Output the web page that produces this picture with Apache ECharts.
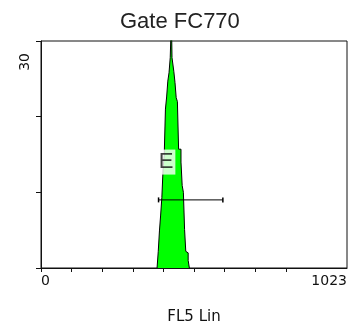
<!DOCTYPE html>
<html>
<head>
<meta charset="utf-8">
<script src="https://cdn.jsdelivr.net/npm/echarts@6/dist/echarts.min.js"></script>
<style>
  html, body { margin: 0; padding: 0; background: #fff; }
  #chart { width: 351px; height: 330px; }
</style>
</head>
<body>
<div id="chart"></div>
<script>
// FL5 histogram: left edge of each bin and its event count
const channels = [388, 392, 396, 400, 404, 408, 412, 416, 420, 424, 428, 432, 436, 438, 440,
                  444, 448, 452, 456, 460, 464, 468, 472, 476, 480, 484, 488, 492, 496];
const counts   = [0, 2.2, 4.9, 7, 9.3, 13, 15, 21, 22.6, 24.7, 25.8, 27.8, 33, 27.8, 27.8,
                  26, 24.5, 22.5, 22, 15.7, 15.7, 14, 10.9, 10, 5.1, 2.2, 2, 1, 0];

// range marker "E": channel span and the height it is drawn at
const markerNames = ['E'];
const markerRange = [393, 608];
const markerLevel = 9;
const markerLabelPos = [418, 14];

// axis scales and tick labels
const xMin = 0, xMax = 1023, xTickStep = 102.3;
const xTickValues = [0, 102.3, 204.6, 306.9, 409.2, 511.5, 613.8, 716.1, 818.4];
const xLabelValues = [0, 1023];
const yMin = 0, yMax = 30;
const yTickValues = [0, 10, 20, 30];
const yLabelValues = [30];

const titleText = 'Gate FC770';
const xName = 'FL5 Lin';

const chart = echarts.init(document.getElementById('chart'), null, { renderer: 'canvas' });

const axisFont = 'DejaVu Sans';

chart.setOption({
  animation: false,
  backgroundColor: '#ffffff',
  title: {
    text: titleText,
    left: 120,
    top: 11,
    padding: 0,
    textStyle: { fontFamily: 'Liberation Sans', fontSize: 22, fontWeight: 'normal', color: '#222' }
  },
  grid: {
    left: 41, right: 4, top: 41, bottom: 61,
    show: true, borderColor: '#111', borderWidth: 1, backgroundColor: 'transparent'
  },
  xAxis: {
    type: 'value',
    min: xMin, max: xMax, interval: xTickStep,
    name: xName,
    nameLocation: 'middle',
    nameGap: 42,
    nameTextStyle: { fontFamily: axisFont, fontSize: 15, color: '#111' },
    axisLine: { show: true, lineStyle: { color: '#111', width: 1 } },
    axisTick: { show: true, length: 4, customValues: xTickValues, lineStyle: { color: '#111' } },
    axisLabel: {
      show: true, customValues: xLabelValues, margin: 6,
      fontFamily: axisFont, fontSize: 14, color: '#111',
      alignMinLabel: 'left', alignMaxLabel: 'right',
      formatter: v => String(Math.round(v))
    },
    splitLine: { show: false }
  },
  yAxis: {
    type: 'value',
    min: yMin, max: yMax, interval: 10,
    axisLine: { show: true, lineStyle: { color: '#111', width: 1 } },
    axisTick: { show: true, length: 5, customValues: yTickValues, lineStyle: { color: '#111' } },
    axisLabel: {
      show: true, customValues: yLabelValues, rotate: 90, margin: 16,
      align: 'right', verticalAlign: 'middle', padding: [0, 12, 0, 0],
      fontFamily: axisFont, fontSize: 14, color: '#111'
    },
    splitLine: { show: false }
  },
  series: [
    {
      type: 'line',
      step: 'end',
      data: channels.map((c, i) => [c, counts[i]]),
      symbol: 'none',
      clip: true,
      lineStyle: { color: '#000', width: 1 },
      areaStyle: { color: '#00ff00', opacity: 1 },
      z: 2
    },
    {
      type: 'line',
      data: markerRange.map(c => [c, markerLevel]),
      symbol: 'rect',
      symbolSize: [1.5, 5],
      itemStyle: { color: '#000' },
      lineStyle: { color: '#000', width: 1 },
      z: 3
    },
    {
      type: 'scatter',
      data: [{ value: markerLabelPos, name: markerNames[0] }],
      symbolSize: 0,
      label: {
        show: true,
        position: 'inside',
        formatter: p => p.name,
        fontFamily: 'Liberation Sans',
        fontSize: 22,
        color: '#111',
        backgroundColor: '#ffffff',
        padding: [2, 2, 1, 2]
      },
      z: 4
    }
  ]
});
</script>
</body>
</html>
